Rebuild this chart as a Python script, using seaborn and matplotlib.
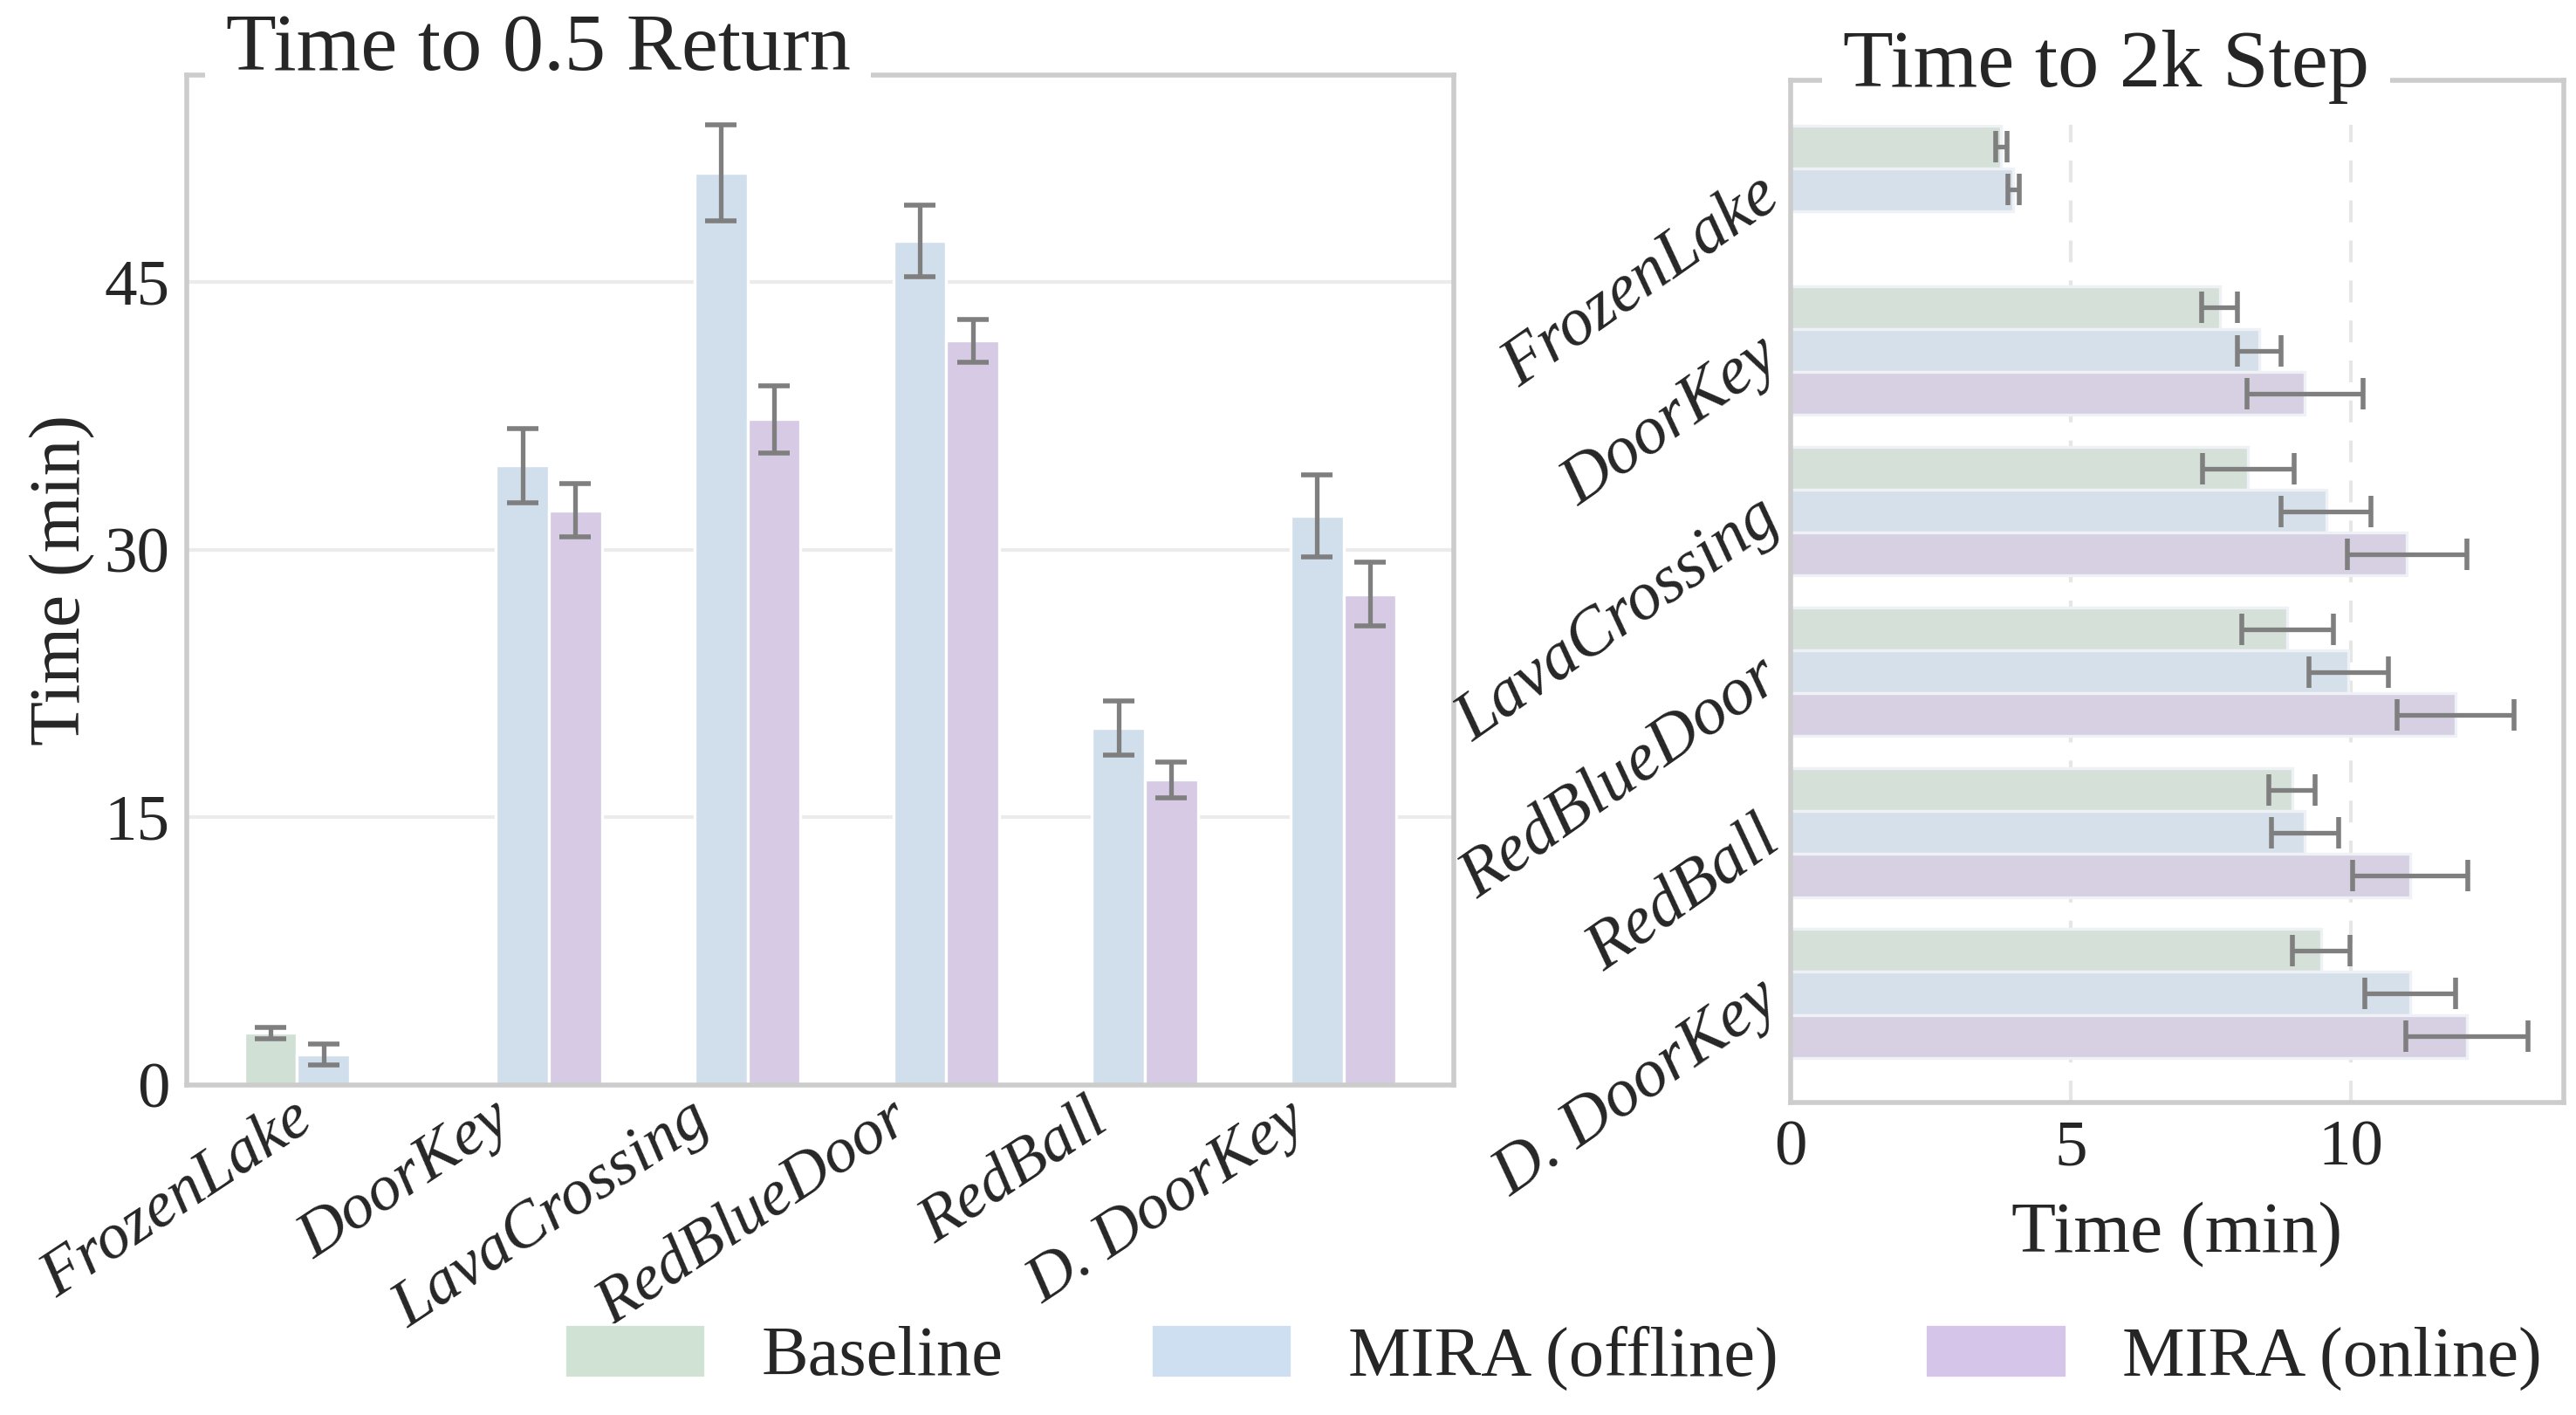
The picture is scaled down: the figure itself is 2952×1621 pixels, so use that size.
import numpy as np
import pandas as pd
import matplotlib
matplotlib.use('Agg')
import matplotlib.pyplot as plt
from matplotlib.patches import Patch
import seaborn as sns

envs = ['FrozenLake', 'DoorKey', 'LavaCrossing', 'RedBlueDoor', 'RedBall', 'D. DoorKey']
methods = ['Baseline', 'MIRA (offline)', 'MIRA (online)']
nan = np.nan

# time to reach 0.5 return (min)
ret_baseline = [2.9, nan, nan, nan, nan, nan]
ret_baseline_err = [0.3, nan, nan, nan, nan, nan]
ret_offline = [1.7, 34.7, 51.1, 47.3, 20.0, 31.9]
ret_offline_err = [0.6, 2.1, 2.7, 2.0, 1.5, 2.3]
ret_online = [nan, 32.2, 37.3, 41.7, 17.1, 27.5]
ret_online_err = [nan, 1.5, 1.9, 1.2, 1.0, 1.8]

# time to reach 2k steps (min)
step_baseline = [3.76, 7.66, 8.17, 8.87, 8.95, 9.47]
step_baseline_err = [0.1, 0.32, 0.82, 0.82, 0.41, 0.51]
step_offline = [3.98, 8.37, 9.56, 9.96, 9.18, 11.06]
step_offline_err = [0.1, 0.39, 0.8, 0.71, 0.6, 0.81]
step_online = [nan, 9.18, 11.0, 11.87, 11.06, 12.07]
step_online_err = [nan, 1.04, 1.07, 1.04, 1.03, 1.09]

colors_left = ['#cfe2d4', '#cddff0', '#d5c6e9']
colors_right = ['#d3e2d8', '#d3e0ed', '#d6cde5']


def long_df(vals, errs):
    rows = []
    for m, v, e in zip(methods, vals, errs):
        for env, vv, ee in zip(envs, v, e):
            rows.append({'env': env, 'method': m, 'time': vv, 'err': ee})
    return pd.DataFrame(rows).dropna()


df_ret = long_df([ret_baseline, ret_offline, ret_online],
                 [ret_baseline_err, ret_offline_err, ret_online_err])
df_step = long_df([step_baseline, step_offline, step_online],
                  [step_baseline_err, step_offline_err, step_online_err])

sns.set_theme(style='whitegrid')
plt.rcParams['font.family'] = ['Liberation Serif', 'DejaVu Serif']
plt.rcParams['text.color'] = '#262626'

fig = plt.figure(figsize=(14.76, 8.105), dpi=200)
ax1 = fig.add_axes([0.0724, 0.2334, 0.4921, 0.7136])
ax2 = fig.add_axes([0.695, 0.2207, 0.3003, 0.7224])

err_kw = dict(fmt='none', ecolor='#7f7f7f', elinewidth=1.9, capsize=6.5, capthick=2, zorder=5)

# left: vertical bars
sns.barplot(data=df_ret, x='env', y='time', hue='method', order=envs, hue_order=methods,
            palette=colors_left, errorbar=None, width=0.8, edgecolor='white', linewidth=1.2,
            legend=False, ax=ax1)
for m, cont in zip(methods, ax1.containers):
    sub = df_ret[df_ret.method == m].set_index('env')
    for bar in cont:
        xc = bar.get_x() + bar.get_width() / 2
        env = envs[int(round(xc))]
        ax1.errorbar(xc, bar.get_height(), yerr=sub.loc[env, 'err'], **err_kw)

ax1.set_xlim(-0.69, 5.69)
ax1.set_ylim(0, 56.6)
ax1.set_yticks([0, 15, 30, 45])
ax1.set_xlabel('')
ax1.set_ylabel('Time (min)', fontsize=30)
ax1.yaxis.set_label_coords(-0.072, 0.5)
ax1.grid(axis='x', visible=False)
ax1.grid(axis='y', color='#ebebeb', linewidth=1.5)
ax1.tick_params(axis='y', labelsize=27, pad=1)
ax1.tick_params(axis='x', labelsize=27, pad=-4)
for lab in ax1.get_xticklabels():
    lab.set_rotation(33.5)
    lab.set_ha('right')
    lab.set_style('italic')
ax1.text(0.031, 1.005, 'Time to 0.5 Return', transform=ax1.transAxes, ha='left', va='baseline',
         fontsize=34, bbox=dict(facecolor='white', edgecolor='none', boxstyle='square,pad=0.25'),
         zorder=10)

# right: horizontal bars
sns.barplot(data=df_step, x='time', y='env', hue='method', order=envs, hue_order=methods,
            palette=colors_right, errorbar=None, width=0.8, orient='h', edgecolor='#eef1f6',
            linewidth=1.2, legend=False, ax=ax2)
for m, cont in zip(methods, ax2.containers):
    sub = df_step[df_step.method == m].set_index('env')
    for bar in cont:
        yc = bar.get_y() + bar.get_height() / 2
        env = envs[int(round(yc))]
        ax2.errorbar(bar.get_width(), yc, xerr=sub.loc[env, 'err'], **err_kw)

ax2.set_ylim(5.68, -0.68)
ax2.set_xlim(0, 13.8)
ax2.set_xticks([0, 5, 10])
ax2.set_ylabel('')
ax2.set_xlabel('Time (min)', fontsize=30)
ax2.xaxis.set_label_coords(0.5, -0.097)
ax2.grid(axis='y', visible=False)
ax2.grid(axis='x', color='#e6e6e6', linewidth=1.5, linestyle='--', dashes=(6, 5))
ax2.tick_params(axis='x', labelsize=27, pad=1)
ax2.tick_params(axis='y', labelsize=28, pad=1)
for lab in ax2.get_yticklabels():
    lab.set_rotation(35)
    lab.set_ha('right')
    lab.set_va('center')
    lab.set_rotation_mode('anchor')
    lab.set_style('italic')
ax2.text(0.068, 0.994, 'Time to 2k Step', transform=ax2.transAxes, ha='left', va='baseline',
         fontsize=34, bbox=dict(facecolor='white', edgecolor='none', boxstyle='square,pad=0.25'),
         zorder=10)

for ax in (ax1, ax2):
    for sp in ax.spines.values():
        sp.set_color('#cccccc')
        sp.set_linewidth(2)

handles = [Patch(facecolor=c, edgecolor='white', label=m) for c, m in zip(colors_left, methods)]
fig.legend(handles=handles, loc='center', bbox_to_anchor=(0.603, 0.041), ncol=3, frameon=False,
           fontsize=29, handlelength=2.0, handleheight=0.8, handletextpad=0.8, columnspacing=2.1)

fig.savefig('out.png', dpi=200)
